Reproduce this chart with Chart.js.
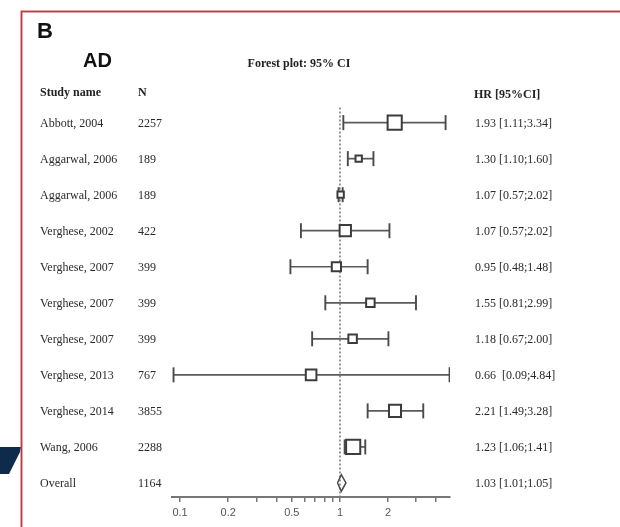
<!DOCTYPE html>
<html>
<head>
<meta charset="utf-8">
<script src="https://cdn.jsdelivr.net/npm/chart.js@4/dist/chart.umd.min.js"></script>
<style>
  html, body { margin: 0; padding: 0; background: #fff; }
  canvas { display: block; }
</style>
</head>
<body>
<canvas id="c" width="620" height="527"></canvas>
<script>
// ---- data ----
const studyNames = ["Abbott, 2004","Aggarwal, 2006","Aggarwal, 2006","Verghese, 2002","Verghese, 2007","Verghese, 2007","Verghese, 2007","Verghese, 2013","Verghese, 2014","Wang, 2006"];
const sampleN = [2257,189,189,422,399,399,399,767,3855,2288];
const hrText = ["1.93 [1.11;3.34]","1.30 [1.10;1.60]","1.07 [0.57;2.02]","1.07 [0.57;2.02]","0.95 [0.48;1.48]","1.55 [0.81;2.99]","1.18 [0.67;2.00]","0.66  [0.09;4.84]","2.21 [1.49;3.28]","1.23 [1.06;1.41]"];
// plotted positions as drawn in the figure
const hrEstimate = [2.20,1.31,1.01,1.08,0.95,1.55,1.20,0.66,2.21,1.21];
const ciLower   = [1.05,1.12,0.98,0.57,0.49,0.81,0.67,0.091,1.49,1.07];
const ciUpper   = [4.58,1.62,1.04,2.04,1.49,2.99,2.01,4.85,3.32,1.44];
const overallName = "Overall";
const overallN = 1164;
const overallText = "1.03 [1.01;1.05]";
const overallEstimate = 1.02;
const overallLower = 0.965;
const overallUpper = 1.09;
const axisTickValues = [0.1,0.2,0.3,0.4,0.5,0.6,0.7,0.8,0.9,1,2,3,4];
const labelledTicks = [0.1,0.2,0.5,1,2];
const tickLabels = ["0.1","0.2","0.5","1","2"];

// ---- styles ----
const boxRadius = [10,4.5,4.5,8,6.5,6,6,7.5,8.5,10];
const lineGray = '#5a5a5a';
const serif = "'Liberation Serif', 'Times New Roman', serif";
const sans = "'Liberation Sans', Arial, sans-serif";

const datasets = [];
// boxes (on top)
datasets.push({
  type: 'scatter',
  order: 0,
  data: hrEstimate.map((v, i) => ({x: v, y: i})),
  pointStyle: 'rect',
  pointRadius: boxRadius,
  pointBackgroundColor: '#ffffff',
  pointBorderColor: '#3c3c3c',
  pointBorderWidth: 2
});
// CI whiskers
studyNames.forEach((n, i) => {
  datasets.push({
    type: 'line',
    order: 1,
    data: [{x: ciLower[i], y: i}, {x: ciUpper[i], y: i}],
    borderColor: lineGray,
    borderWidth: 1.7,
    pointStyle: 'line',
    pointRotation: 90,
    pointRadius: 7.5,
    pointBorderWidth: 1.9,
    pointBorderColor: '#4a4a4a',
    fill: false
  });
});
// overall diamond
const oy = studyNames.length;
datasets.push({
  type: 'line',
  order: 0,
  data: [
    {x: overallLower, y: oy},
    {x: overallEstimate, y: oy - 0.23},
    {x: overallUpper, y: oy},
    {x: overallEstimate, y: oy + 0.23},
    {x: overallLower, y: oy}
  ],
  borderColor: '#4a4a4a',
  borderWidth: 1.5,
  backgroundColor: '#ffffff',
  fill: true,
  pointRadius: 0,
  tension: 0
});
// reference line at HR = 1
datasets.push({
  type: 'line',
  order: 3,
  data: [{x: 1, y: -0.42}, {x: 1, y: 10.39}],
  borderColor: '#777',
  borderWidth: 1.5,
  borderDash: [2, 2],
  pointRadius: 0,
  fill: false
});

const decor = {
  id: 'decor',
  beforeDraw(chart) {
    const ctx = chart.ctx;
    ctx.save();
    ctx.fillStyle = '#ffffff';
    ctx.fillRect(0, 0, chart.width, chart.height);
    // navy fragment at left
    ctx.fillStyle = '#0f2b4c';
    ctx.beginPath();
    ctx.moveTo(0, 447); ctx.lineTo(21, 447); ctx.lineTo(20, 452);
    ctx.lineTo(9, 474); ctx.lineTo(0, 474); ctx.closePath();
    ctx.fill();
    // red frame
    ctx.strokeStyle = 'rgba(200,60,70,0.25)';
    ctx.lineWidth = 3;
    ctx.strokeRect(21.5, 11.5, 800, 800);
    ctx.strokeStyle = '#b83a42';
    ctx.lineWidth = 1.5;
    ctx.strokeRect(21.5, 11.5, 800, 800);
    ctx.restore();
  },
  afterDraw(chart) {
    const ctx = chart.ctx;
    const ys = chart.scales.y;
    ctx.save();
    ctx.fillStyle = '#111';
    ctx.textBaseline = 'alphabetic';
    ctx.textAlign = 'left';
    ctx.font = 'bold 22px ' + sans;
    ctx.fillText('B', 37, 38);
    ctx.font = 'bold 20px ' + sans;
    ctx.fillText('AD', 83, 67);
    ctx.textBaseline = 'middle';
    ctx.font = 'bold 12px ' + serif;
    ctx.fillStyle = '#222';
    ctx.textAlign = 'center';
    ctx.fillText('Forest plot: 95% CI', 299, 64);
    ctx.textAlign = 'left';
    ctx.fillText('Study name', 40, 93);
    ctx.fillText('N', 138, 93);
    ctx.fillText('HR [95%CI]', 474, 95);
    ctx.font = '12px ' + serif;
    ctx.fillStyle = '#2a2a2a';
    const names = studyNames.concat([overallName]);
    const ns = sampleN.concat([overallN]);
    const hrs = hrText.concat([overallText]);
    names.forEach((n, i) => {
      const y = ys.getPixelForValue(i) + 1;
      ctx.fillText(n, 40, y);
      ctx.fillText(String(ns[i]), 138, y);
      ctx.fillText(hrs[i], 475, y);
    });
    ctx.restore();
  }
};

new Chart(document.getElementById('c'), {
  type: 'scatter',
  data: { datasets },
  plugins: [decor],
  options: {
    responsive: false,
    animation: false,
    devicePixelRatio: 1,
    layout: { padding: { left: 172, right: 170, top: 101, bottom: 0 } },
    plugins: { legend: { display: false }, tooltip: { enabled: false }, title: { display: false } },
    scales: {
      x: {
        type: 'logarithmic',
        min: 0.089,
        max: 4.88,
        position: 'bottom',
        border: { display: true, color: '#777', width: 2 },
        grid: { drawOnChartArea: false, drawTicks: true, tickLength: 5, color: '#777', lineWidth: 1.5 },
        ticks: {
          autoSkip: false,
          maxRotation: 0,
          padding: 4,
          color: '#555',
          font: { family: sans, size: 11 },
          callback: (v) => {
            const k = labelledTicks.findIndex(t => Math.abs(t - v) < 1e-9);
            return k >= 0 ? tickLabels[k] : '';
          }
        },
        afterBuildTicks: (s) => { s.ticks = axisTickValues.map(v => ({ value: v })); },
        afterFit: (s) => { s.height = 30; }
      },
      y: {
        type: 'linear',
        min: -0.6,
        max: 10.39,
        reverse: true,
        display: false
      }
    }
  }
});
</script>
</body>
</html>
